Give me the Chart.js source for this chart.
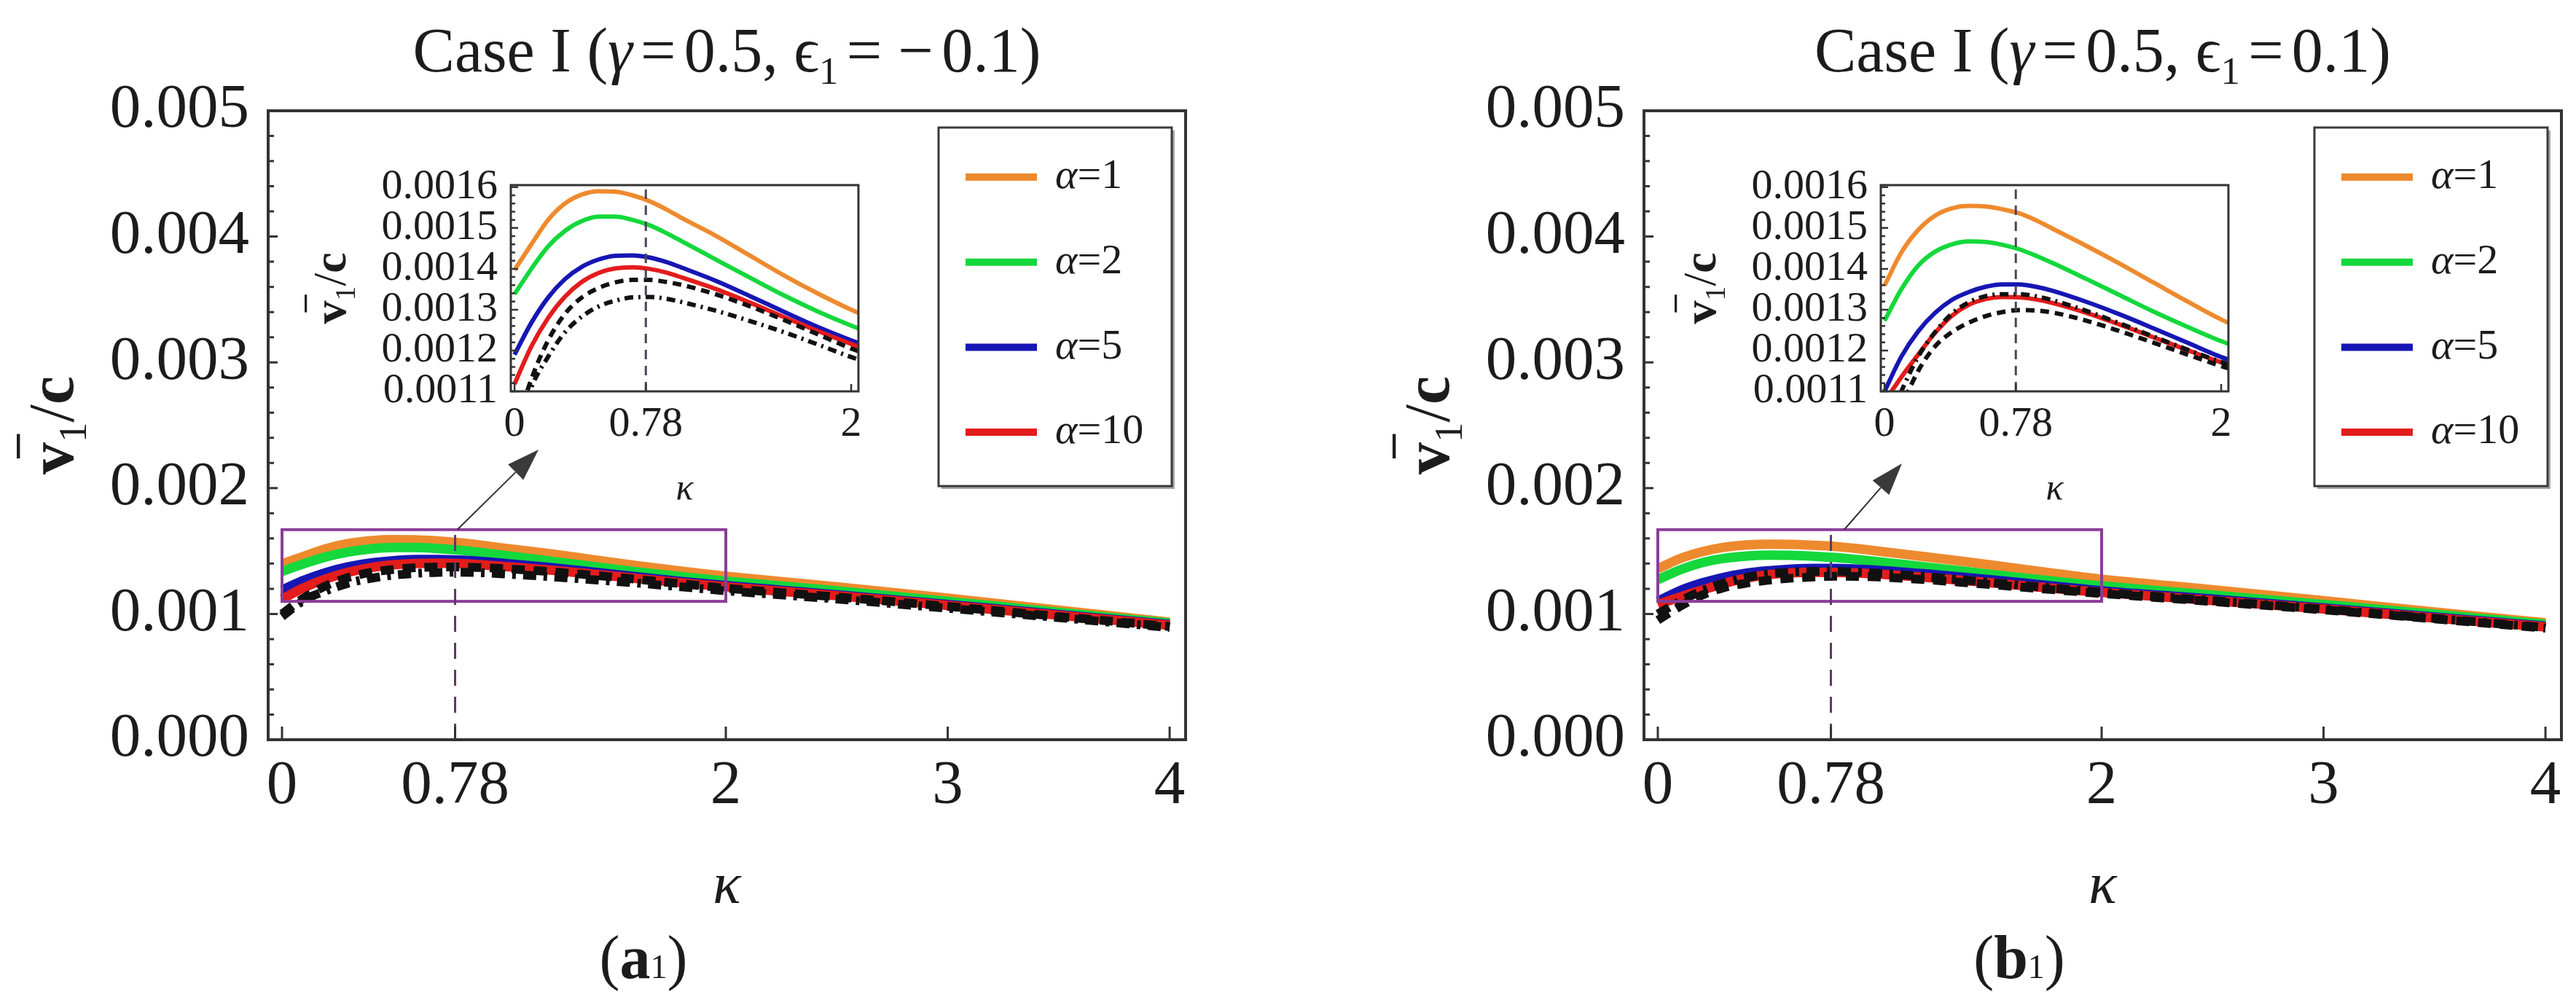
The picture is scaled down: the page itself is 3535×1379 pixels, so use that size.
<!DOCTYPE html>
<html>
<head>
<meta charset="utf-8">
<title>Case I: v1/c versus kappa</title>
<script src="https://cdn.jsdelivr.net/npm/chart.js@4.4.1/dist/chart.umd.min.js"></script>
<style>
  html, body { margin: 0; padding: 0; background: #fff; }
  body { width: 3535px; height: 1379px; position: relative; overflow: hidden; }
  .panel { position: absolute; }
</style>
</head>
<body>
<div class="panel" style="left:0px;top:0px;width:1767px;height:1379px"><canvas id="mainA"></canvas></div>
<div class="panel" style="left:400px;top:200px;width:798px;height:502px"><canvas id="insetA"></canvas></div>
<div class="panel" style="left:1888px;top:0px;width:1647px;height:1379px"><canvas id="mainB"></canvas></div>
<div class="panel" style="left:2280px;top:200px;width:798px;height:502px"><canvas id="insetB"></canvas></div>
<script>
// kappa grid shared by every curve
const KAPPA = [0, 0.1, 0.2, 0.3, 0.4, 0.5, 0.6, 0.7, 0.8, 0.9, 1.0, 1.2, 1.4, 1.6, 1.8, 2.0, 2.5, 3.0, 3.5, 4.0];

// panel (a1): gamma = 0.5, eps1 = -0.1
const A_ALPHA1  = [0.001397, 0.001460, 0.001520, 0.001560, 0.001582, 0.001590, 0.001589, 0.001580, 0.001566, 0.001546, 0.001523, 0.001480, 0.001432, 0.001384, 0.001340, 0.001300, 0.001215, 0.001125, 0.001030, 0.000935];
const A_ALPHA2  = [0.001338, 0.001400, 0.001455, 0.001493, 0.001517, 0.001528, 0.001528, 0.001520, 0.001507, 0.001488, 0.001466, 0.001422, 0.001378, 0.001335, 0.001296, 0.001261, 0.001183, 0.001100, 0.001012, 0.000927];
const A_ALPHA5  = [0.001190, 0.001268, 0.001330, 0.001375, 0.001405, 0.001423, 0.001432, 0.001433, 0.001428, 0.001417, 0.001402, 0.001370, 0.001333, 0.001295, 0.001258, 0.001225, 0.001152, 0.001075, 0.000995, 0.000915];
const A_ALPHA10 = [0.001118, 0.001210, 0.001280, 0.001332, 0.001368, 0.001390, 0.001401, 0.001404, 0.001400, 0.001391, 0.001378, 0.001350, 0.001317, 0.001282, 0.001248, 0.001216, 0.001145, 0.001068, 0.000990, 0.000910];
const A_DASHED  = [0.001000, 0.001130, 0.001225, 0.001290, 0.001330, 0.001353, 0.001367, 0.001373, 0.001373, 0.001368, 0.001360, 0.001337, 0.001308, 0.001275, 0.001240, 0.001205, 0.001135, 0.001060, 0.000980, 0.000900];
const A_DOTDASH = [0.000980, 0.001110, 0.001185, 0.001245, 0.001283, 0.001308, 0.001322, 0.001330, 0.001331, 0.001327, 0.001318, 0.001297, 0.001272, 0.001245, 0.001215, 0.001184, 0.001118, 0.001045, 0.000970, 0.000892];

// panel (b1): gamma = 0.5, eps1 = 0.1
const B_ALPHA1  = [0.001359, 0.001440, 0.001495, 0.001530, 0.001548, 0.001554, 0.001553, 0.001546, 0.001536, 0.001519, 0.001498, 0.001456, 0.001412, 0.001366, 0.001320, 0.001276, 0.001192, 0.001105, 0.001015, 0.000930];
const B_ALPHA2  = [0.001273, 0.001350, 0.001408, 0.001442, 0.001460, 0.001467, 0.001466, 0.001459, 0.001448, 0.001432, 0.001414, 0.001375, 0.001335, 0.001295, 0.001258, 0.001223, 0.001150, 0.001075, 0.000998, 0.000918];
const B_ALPHA5  = [0.001100, 0.001185, 0.001247, 0.001292, 0.001324, 0.001343, 0.001356, 0.001362, 0.001362, 0.001356, 0.001346, 0.001319, 0.001288, 0.001254, 0.001219, 0.001184, 0.001118, 0.001048, 0.000975, 0.000902];
const B_ALPHA10 = [0.001075, 0.001135, 0.001190, 0.001243, 0.001285, 0.001312, 0.001326, 0.001331, 0.001330, 0.001325, 0.001316, 0.001292, 0.001263, 0.001232, 0.001201, 0.001171, 0.001107, 0.001040, 0.000968, 0.000896];
const B_DOTDASH = [0.001000, 0.001100, 0.001185, 0.001245, 0.001290, 0.001318, 0.001333, 0.001338, 0.001338, 0.001333, 0.001323, 0.001297, 0.001266, 0.001234, 0.001202, 0.001172, 0.001106, 0.001038, 0.000965, 0.000892];
const B_DASHED  = [0.000950, 0.001060, 0.001150, 0.001210, 0.001245, 0.001268, 0.001284, 0.001294, 0.001299, 0.001298, 0.001293, 0.001273, 0.001247, 0.001219, 0.001190, 0.001162, 0.001098, 0.001032, 0.000960, 0.000886];

const ALPHA_LABELS = ['α=1', 'α=2', 'α=5', 'α=10'];

const MAIN_X_TICKS = [0, 0.78, 2, 3, 4];
const MAIN_X_LABELS = ['0', '0.78', '2', '3', '4'];
const MAIN_Y_TICKS = [0, 0.001, 0.002, 0.003, 0.004, 0.005];
const INSET_X_TICKS = [0, 0.78, 2];
const INSET_X_LABELS = ['0', '0.78', '2'];
const INSET_Y_TICKS = [0.0011, 0.0012, 0.0013, 0.0014, 0.0015, 0.0016];

const KAPPA_MARK = 0.78;
const ZOOM_BOX = { x0: 0, x1: 2, y0: 0.0011, y1: 0.00167 };
const ARROW_A = { from: [0.79, 0.00167], to: [1.156, 0.002306] };
const ARROW_B = { from: [0.84, 0.00167], to: [1.10, 0.002196] };

// styles
const SERIF = '"Liberation Serif", "DejaVu Serif", serif';
const INK = '#1c1c1c';
const LINE_COLORS = ['#ee8a2e', '#14d83c', '#1616b4', '#e31c1c', '#111111', '#111111'];
const MAIN_WIDTHS = [13, 13, 13, 13, 12, 12];
const INSET_WIDTHS = [6, 6, 6, 6, 6, 6];
const DASH_MAIN = [18, 12], DOTDASH_MAIN = [18, 10, 5, 10];
const DASH_INSET = [12, 8], DOTDASH_INSET = [12, 7, 3, 7];

const TITLE_A = [['Case I (', 'r'], ['γ', 'i'], ['=', 'op'], ['0.5, ', 'r'], ['ϵ', 'r'], ['1', 'sub'], ['=', 'op'], ['−', 'op'], ['0.1)', 'r']];
const TITLE_B = [['Case I (', 'r'], ['γ', 'i'], ['=', 'op'], ['0.5, ', 'r'], ['ϵ', 'r'], ['1', 'sub'], ['=', 'op'], ['0.1)', 'r']];
const Y_TITLE = [['v', 'b'], ['1', 'sub'], ['/', 'r'], ['c', 'b']];
const TAG_A = [['(', 'r'], ['a', 'b'], ['1', 'small'], [')', 'r']];
const TAG_B = [['(', 'r'], ['b', 'b'], ['1', 'small'], [')', 'r']];

const RUN_STYLE = {
  r: s => ({ font: `${s}px ${SERIF}` }),
  i: s => ({ font: `italic ${s}px ${SERIF}` }),
  b: s => ({ font: `bold ${s}px ${SERIF}` }),
  sub: s => ({ font: `${Math.round(s * 0.62)}px ${SERIF}`, dy: s * 0.2 }),
  small: s => ({ font: `${Math.round(s * 0.55)}px ${SERIF}` }),
  op: s => ({ font: `${s}px ${SERIF}`, gap: s * 0.13 })
};

// draws a row of differently styled text pieces, returns where each landed
function drawRuns(ctx, runs, x, y, size, align) {
  const items = runs.map(([t, kind]) => {
    const st = RUN_STYLE[kind](size);
    ctx.font = st.font;
    return { t, st, w: ctx.measureText(t).width + 2 * (st.gap || 0) };
  });
  const total = items.reduce((acc, it) => acc + it.w, 0);
  let cx = align === 'center' ? x - total / 2 : x;
  return items.map(it => {
    const gap = it.st.gap || 0;
    ctx.font = it.st.font;
    ctx.fillText(it.t, cx + gap, y + (it.st.dy || 0));
    const p = { x: cx + gap, w: it.w - 2 * gap };
    cx += it.w;
    return p;
  });
}

const panelDecor = {
  id: 'panelDecor',
  afterDatasetsDraw(chart, args, o) {
    const { ctx, chartArea: a } = chart;
    const xs = chart.scales.x, ys = chart.scales.y;
    ctx.save();

    if (o.zoomBox) {
      const b = o.zoomBox;
      const l = xs.getPixelForValue(b.x0), r = xs.getPixelForValue(b.x1);
      const t = ys.getPixelForValue(b.y1), btm = ys.getPixelForValue(b.y0);
      ctx.strokeStyle = '#8a3d98';
      ctx.lineWidth = 4;
      ctx.strokeRect(l, t, r - l, btm - t);
    }

    if (o.marker) {
      const px = xs.getPixelForValue(o.marker.x);
      const top = o.marker.yTop == null ? a.top : ys.getPixelForValue(o.marker.yTop);
      ctx.strokeStyle = o.marker.color;
      ctx.lineWidth = 3;
      ctx.setLineDash(o.marker.dash);
      ctx.beginPath();
      ctx.moveTo(px, a.bottom);
      ctx.lineTo(px, top);
      ctx.stroke();
      ctx.setLineDash([]);
    }

    if (o.arrow) {
      const x0 = xs.getPixelForValue(o.arrow.from[0]), y0 = ys.getPixelForValue(o.arrow.from[1]);
      const x1 = xs.getPixelForValue(o.arrow.to[0]), y1 = ys.getPixelForValue(o.arrow.to[1]);
      const ang = Math.atan2(y1 - y0, x1 - x0);
      const head = 44, half = 15;
      const bx = x1 - head * Math.cos(ang), by = y1 - head * Math.sin(ang);
      ctx.strokeStyle = '#333';
      ctx.lineWidth = 2;
      ctx.beginPath();
      ctx.moveTo(x0, y0);
      ctx.lineTo(bx, by);
      ctx.stroke();
      ctx.fillStyle = '#3a3a3a';
      ctx.beginPath();
      ctx.moveTo(x1, y1);
      ctx.lineTo(bx + half * Math.sin(ang), by - half * Math.cos(ang));
      ctx.lineTo(bx - half * Math.sin(ang), by + half * Math.cos(ang));
      ctx.closePath();
      ctx.fill();
    }

    // frame with inward ticks
    ctx.strokeStyle = '#333';
    ctx.lineWidth = o.frameWidth;
    ctx.strokeRect(a.left, a.top, a.right - a.left, a.bottom - a.top);
    ctx.lineWidth = o.tickWidth;
    ctx.beginPath();
    o.xTicks.forEach(v => {
      const px = xs.getPixelForValue(v);
      ctx.moveTo(px, a.bottom);
      ctx.lineTo(px, a.bottom - o.xTickLen);
    });
    o.yTicks.forEach((v, i) => {
      const py = ys.getPixelForValue(v);
      ctx.moveTo(a.left, py);
      ctx.lineTo(a.left + o.yTickLen, py);
      if (i < o.yTicks.length - 1) {
        const step = (o.yTicks[i + 1] - v) / (o.yMinor + 1);
        for (let k = 1; k <= o.yMinor; k++) {
          const pm = ys.getPixelForValue(v + k * step);
          ctx.moveTo(a.left, pm);
          ctx.lineTo(a.left + o.yMinorLen, pm);
        }
      }
    });
    ctx.stroke();
    ctx.restore();
  },

  afterDraw(chart, args, o) {
    const { ctx, chartArea: a } = chart;
    ctx.save();
    ctx.fillStyle = INK;

    if (o.legend) {
      const bx = a.right - 339, by = a.top + 23, bw = 320, bh = 492;
      ctx.fillStyle = '#a8a8a8';
      ctx.fillRect(bx + 4, by + 4, bw, bh);
      ctx.fillStyle = '#fff';
      ctx.fillRect(bx, by, bw, bh);
      ctx.strokeStyle = '#3a3a3a';
      ctx.lineWidth = 3;
      ctx.strokeRect(bx, by, bw, bh);
      ctx.textBaseline = 'middle';
      chart.data.datasets.filter(d => d.label).forEach((d, i) => {
        const ey = by + 68 + i * 116.7;
        ctx.strokeStyle = d.borderColor;
        ctx.lineWidth = 10;
        ctx.beginPath();
        ctx.moveTo(bx + 37, ey);
        ctx.lineTo(bx + 135, ey);
        ctx.stroke();
        ctx.fillStyle = INK;
        drawRuns(ctx, [[d.label[0], 'i'], [d.label.slice(1), 'r']], bx + 160, ey, 58, 'left');
      });
    }

    ctx.textBaseline = 'alphabetic';
    ctx.fillStyle = INK;
    if (o.title) drawRuns(ctx, o.title, (a.left + a.right) / 2, o.titleY, o.titleSize, 'center');
    if (o.tag) drawRuns(ctx, o.tag, o.tagX, o.tagY, o.tagSize, 'center');

    if (o.yTitle) {
      const s = o.yTitle.size;
      ctx.save();
      ctx.translate(o.yTitle.x, (a.top + a.bottom) / 2);
      ctx.rotate(-Math.PI / 2);
      const placed = drawRuns(ctx, Y_TITLE, 0, 0, s, 'center');
      const v = placed[0];
      ctx.strokeStyle = INK;
      ctx.lineWidth = s * 0.05;
      ctx.beginPath();
      ctx.moveTo(v.x + v.w * 0.5, -s * 0.85);
      ctx.lineTo(v.x + v.w * 0.5 + s * 0.38, -s * 0.85);
      ctx.stroke();
      ctx.restore();
    }
    ctx.restore();
  }
};

function buildDatasets(valueSets, widths, dashes) {
  return valueSets.map((vals, i) => ({
    label: ALPHA_LABELS[i] || '',
    data: KAPPA.map((k, j) => ({ x: k, y: vals[j] })),
    borderColor: LINE_COLORS[i],
    borderWidth: widths[i],
    borderDash: dashes[i],
    pointRadius: 0,
    fill: false,
    cubicInterpolationMode: 'monotone',
    order: valueSets.length - i
  }));
}

function axis(min, max, ticks, labels, size, pad, fit) {
  return {
    type: 'linear', min, max,
    afterBuildTicks: s => { s.ticks = ticks.map(v => ({ value: v })); },
    afterFit: fit,
    grid: { display: false, drawTicks: false },
    border: { display: false },
    ticks: {
      padding: pad, color: INK, autoSkip: false, maxRotation: 0,
      font: { family: SERIF, size },
      callback: (v, i) => labels ? labels[i] : v.toFixed(String(ticks[1]).length - 2)
    }
  };
}

function mainConfig(valueSets, dashes, deco, rightPad) {
  const x = axis(-0.0624, 4.072, MAIN_X_TICKS, MAIN_X_LABELS, 85, 14, s => { s.height = 251; });
  x.title = { display: true, text: 'κ', color: INK, padding: 0, font: { family: SERIF, size: 80, style: 'italic' } };
  const y = axis(0, 0.005, MAIN_Y_TICKS, null, 85, 26, s => { s.width = 368; });
  return {
    type: 'line',
    data: { datasets: buildDatasets(valueSets, MAIN_WIDTHS, dashes) },
    options: {
      animation: false, responsive: true, maintainAspectRatio: false,
      layout: { padding: { left: 0, top: 152, right: rightPad, bottom: 113 } },
      plugins: { legend: { display: false }, tooltip: { enabled: false }, panelDecor: deco },
      scales: { x, y }
    },
    plugins: [panelDecor]
  };
}

function insetConfig(valueSets, dashes) {
  const x = axis(-0.022, 2.043, INSET_X_TICKS, INSET_X_LABELS, 58, 11, s => { s.height = 165; });
  x.title = { display: true, text: 'κ', color: INK, padding: 0, font: { family: SERIF, size: 50, style: 'italic' } };
  const y = axis(0.0011, 0.001605, INSET_Y_TICKS, null, 58, 18, s => { s.width = 301; });
  return {
    type: 'line',
    data: { datasets: buildDatasets(valueSets, INSET_WIDTHS, dashes).map(d => ({ ...d, clip: 0 })) },
    options: {
      animation: false, responsive: true, maintainAspectRatio: false,
      layout: { padding: { left: 0, top: 54, right: 20, bottom: 0 } },
      plugins: {
        legend: { display: false }, tooltip: { enabled: false },
        panelDecor: {
          frameWidth: 3, tickWidth: 2.5,
          xTicks: INSET_X_TICKS, xTickLen: 10,
          yTicks: INSET_Y_TICKS, yTickLen: 10, yMinor: 4, yMinorLen: 6,
          marker: { x: KAPPA_MARK, yTop: null, color: '#4a4458', dash: [13, 9] },
          yTitle: { x: 74, size: 64 }
        }
      },
      scales: { x, y }
    },
    plugins: [panelDecor]
  };
}

function mainDeco(title, tag, arrow) {
  return {
    frameWidth: 4, tickWidth: 3,
    xTicks: MAIN_X_TICKS, xTickLen: 18,
    yTicks: MAIN_Y_TICKS, yTickLen: 13, yMinor: 4, yMinorLen: 8,
    marker: { x: KAPPA_MARK, yTop: ZOOM_BOX.y1, color: '#5e3a62', dash: [22, 15] },
    zoomBox: ZOOM_BOX,
    arrow,
    legend: true,
    title, titleSize: 86, titleY: 98,
    yTitle: { x: 100, size: 88 },
    tag, tagSize: 84, tagX: 883, tagY: 1342
  };
}

const SETS_A = [A_ALPHA1, A_ALPHA2, A_ALPHA5, A_ALPHA10, A_DASHED, A_DOTDASH];
const SETS_B = [B_ALPHA1, B_ALPHA2, B_ALPHA5, B_ALPHA10, B_DOTDASH, B_DASHED];

new Chart(document.getElementById('mainA'),
  mainConfig(SETS_A, [[], [], [], [], DASH_MAIN, DOTDASH_MAIN], mainDeco(TITLE_A, TAG_A, ARROW_A), 140));
new Chart(document.getElementById('insetA'),
  insetConfig(SETS_A, [[], [], [], [], DASH_INSET, DOTDASH_INSET]));
new Chart(document.getElementById('mainB'),
  mainConfig(SETS_B, [[], [], [], [], DOTDASH_MAIN, DASH_MAIN], mainDeco(TITLE_B, TAG_B, ARROW_B), 20));
new Chart(document.getElementById('insetB'),
  insetConfig(SETS_B, [[], [], [], [], DOTDASH_INSET, DASH_INSET]));
</script>
</body>
</html>
